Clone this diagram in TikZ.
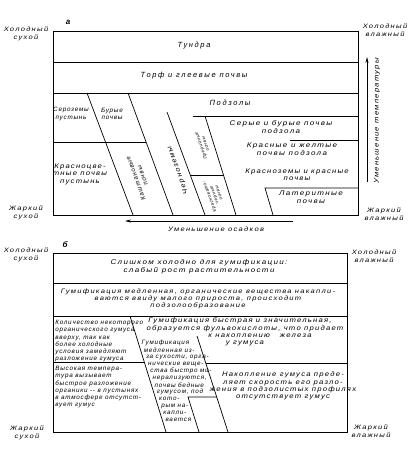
\documentclass[tikz,border=0pt]{standalone}
\usepackage{fontspec}
\setmainfont{Liberation Sans}
\newfontfamily\lfa[LetterSpace=22]{Liberation Sans}
\newfontfamily\lfn[LetterSpace=12]{Liberation Sans}
\newfontfamily\lfm[FakeStretch=1.15,LetterSpace=18]{Liberation Sans}
\newfontfamily\lfw[FakeStretch=1.18,LetterSpace=20]{Liberation Sans}
\usetikzlibrary{arrows.meta}
\begin{document}
\begin{tikzpicture}[x=1pt,y=-1pt,line width=0.7pt,
  hd/.style={font=\lfa\itshape\fontsize{7.5}{8}\selectfont,inner sep=0pt,align=center},
  txn/.style={font=\lfn\itshape\fontsize{6.3}{7.2}\selectfont,inner sep=0pt,align=center},
  tx/.style={font=\lfm\itshape\fontsize{6.7}{7.4}\selectfont,inner sep=0pt,align=center},
  txw/.style={font=\lfw\itshape\fontsize{6.8}{7.6}\selectfont,inner sep=0pt,align=center},
  txl/.style={txn,align=left,anchor=north west},
  tiny/.style={font=\lfn\itshape\fontsize{4.5}{5}\selectfont,inner sep=0pt,align=center},
  side/.style={font=\lfw\itshape\fontsize{6.4}{7.6}\selectfont,inner sep=0pt,align=center},
  arr/.style={-{Stealth[length=6pt,width=3pt]}}]
\useasboundingbox (0,0) rectangle (416,449);

% ===== panel a =====
\node[font=\itshape\bfseries\fontsize{8}{8}\selectfont] (la) at (68,22) {а};
\draw (53,31) rectangle (358,215);
\draw (53,62) -- (358,62);
\draw (53,93) -- (358,93);
\draw (193,116) -- (358,116);
\draw (290,140) -- (358,140);
\draw (53,142) -- (146,142);
\draw (87,93) -- (133,215);
\draw (128,93) -- (173,215);
\draw (167,112) -- (205,215);
\draw (205,116) -- (236,215);
\draw (190,175) -- (224,175);
\draw (358,188) -- (265,188) -- (273,215);

\node[hd] (t1) at (194,46) {Тундра};
\node[hd] (t2) at (194,76) {Торф и глеевые почвы};
\node[hd] (t3) at (230,103) {Подзолы};
\node[txw] (t4) at (281,127) {Серые и бурые почвы\\подзола};
\node[txw] (t5) at (292,149) {Красные и желтые\\почвы подзола};
\node[tx] (t6) at (297,175) {Красноземы и красные\\почвы};
\node[txw] (t7) at (311,197) {Латеритные\\почвы};
\node[txn] (t8) at (71,114) {Сероземы\\пустынь};
\node[txn] (t9) at (112,114) {Бурые\\почвы};
\node[tx] (t10) at (80,174) {Красноцве-\\тные почвы\\пустынь};
\node[txn,rotate=110] (t11) at (139,177) {Каштановые\\почвы};
\node[tx,rotate=110] (t12) at (178,170) {Черноземы};
\node[tiny,rotate=110] (t13) at (203,145) {Прерийные\\почвы};
\node[tiny,rotate=110] (t14) at (214,195) {Красновато-\\черные\\почвы};

\node[side] (c1) at (26,34) {Холодный\\сухой};
\node[side] (c2) at (26,213) {Жаркий\\сухой};
\node[side] (c3) at (385,30) {Холодный\\влажный};
\node[side] (c4) at (384,214) {Жаркий\\влажный};

\coordinate (v1) at (367,182);
\coordinate (v2) at (367,57);
\draw[arr] (v1) -- (v2);
\node[tx,rotate=90] (vt) at (377,121) {Уменьшение температуры};
\coordinate (h1) at (293,221);
\coordinate (h2) at (125,221);
\draw[arr] (h1) -- (h2);
\node[side] (ht) at (216,229) {Уменьшение осадков};

% ===== panel b =====
\node[font=\itshape\bfseries\fontsize{8}{8}\selectfont] (lb) at (65,245) {б};
\draw (53,253) rectangle (347,432);
\draw (53,283) -- (347,283);
\draw (53,316) -- (347,316);
\draw (53,362) -- (144,362);
\draw (130,316) -- (166,432);
\draw (197,336) -- (228,432);
\draw (206,363) -- (347,363);
\draw (217,397) -- (188,397) -- (199,432);

\node[txw] (b1) at (199,267) {Слишком холодно для гумификации:\\слабый рост растительности};
\node[font=\lfw\itshape\fontsize{6.4}{7.3}\selectfont,inner sep=0pt,align=center] (b2) at (198,299) {Гумификация медленная, органические вещества накапли-\\ваются ввиду малого прироста, происходит\\подзолообразование};
\node[tx] (b3a) at (240,321) {Гумификация быстрая и значительная,};
\node[tx] (b3b) at (245,329) {образуется фульвокислоты, что придает};
\node[tx] (b3c) at (260,336) {к накоплению \quad железа};
\node[tx] (b3d) at (245,343) {у гумуса};
\node[txl] (b4) at (55,320) {Количество некоторого\\органического гумуса\\вверху, так как\\более холодные\\условия замедляют\\разложение гумуса};
\node[txl] (b5) at (55,366) {Высокая темпера-\\тура вызывает\\быстрое разложение\\органики -- в пустынях\\в атмосфере отсутст-\\вует гумус};
\foreach \yy/\tt [count=\i] in {343/Гумификация, 350/медленная из-, 357/за сухости{,} орга-, 364/нические веще-, 371/ства быстро ми-, 378/нерализуются{,}, 385/почвы бедные, 392/гумусом{,} под, 399/кото-, 406/рым на-, 413/капли-, 420/вается}
  \node[txn,anchor=west] (s\i) at ({133+0.31*(\yy-316)},\yy) {\tt};
\node[tx] (b8) at (283,386) {Накопление гумуса преде-\\ляет скорость его разло-\\жения в подзолистых профилях\\отсутствует гумус};

\node[side] (d1) at (26,255) {Холодный\\сухой};
\node[side] (d2) at (27,433) {Жаркий\\сухой};
\node[side] (d3) at (374,256) {Холодный\\влажный};
\node[side] (d4) at (371,431) {Жаркий\\влажный};
\end{tikzpicture}
\end{document}
